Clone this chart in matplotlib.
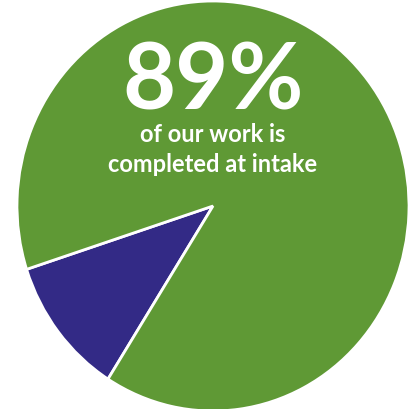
import matplotlib
matplotlib.use("Agg")
import matplotlib.pyplot as plt

categories = ["Not completed at intake", "Completed at intake"]
values = [11, 89]
colors = ["#332a86", "#5f9935"]
headline = "89%"
subtitle_lines = ["of our work is", "completed at intake"]

W, H = 409, 410
fig = plt.figure(figsize=(W / 100, H / 100), dpi=100)
ax = fig.add_axes([0, 0, 1, 1])
ax.pie(values, colors=colors, startangle=198, counterclock=True,
       wedgeprops=dict(edgecolor="white", linewidth=2.0))
ax.set_aspect("auto")
cx, cy, rx, ry = 213, 207, 196, 205
ax.set_xlim((0 - cx) / rx, (W - cx) / rx)
ax.set_ylim((cy - H) / ry, (cy - 0) / ry)
ax.axis("off")

fam = ["Lato", "DejaVu Sans"]
fig.text(213 / W, 1 - 110 / H, headline, ha="center", va="baseline",
         color="white", fontsize=66, fontweight="bold", family=fam)
fig.text(213 / W, 1 - 142 / H, subtitle_lines[0], ha="center", va="baseline",
         color="white", fontsize=17, fontweight="bold", family=fam)
fig.text(213 / W, 1 - 172 / H, subtitle_lines[1], ha="center", va="baseline",
         color="white", fontsize=17, fontweight="bold", family=fam)

fig.savefig("out.png", dpi=100, facecolor="white")
